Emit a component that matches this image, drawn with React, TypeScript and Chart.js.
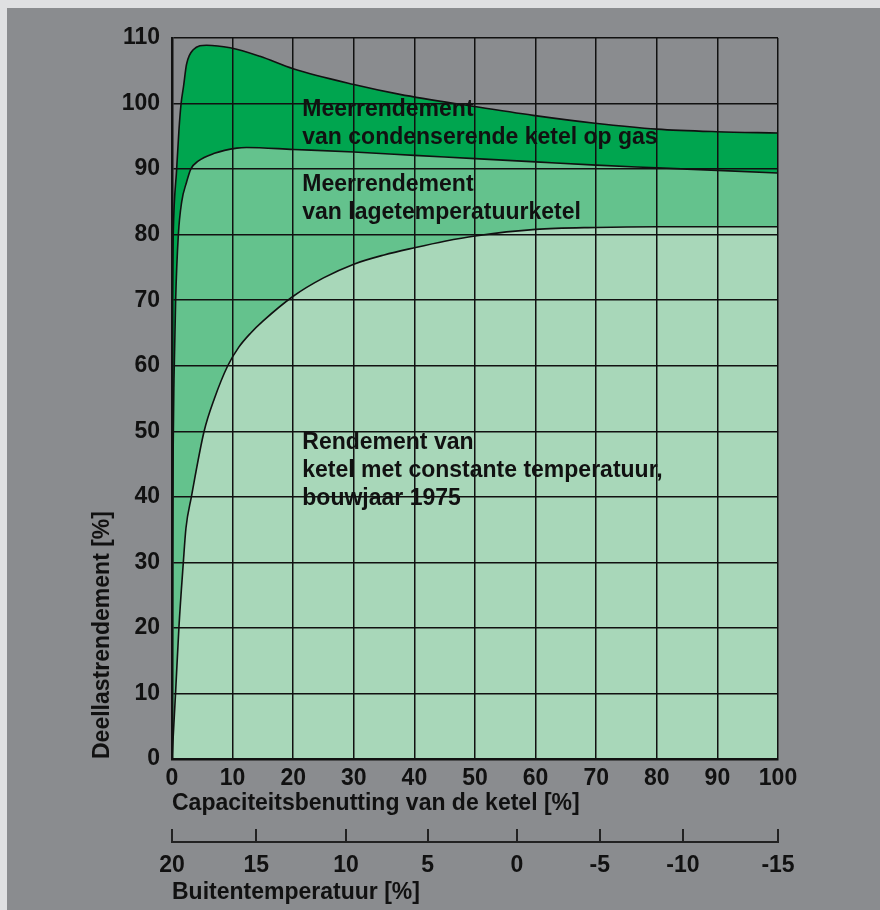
import React, { useEffect, useRef } from "react";
import { Chart, registerables } from "chart.js";

Chart.register(...registerables);

// ---- data ----
const tempLabels = ["20", "15", "10", "5", "0", "-5", "-10", "-15"];
const tempAtCapacity = [0, 13.9, 28.7, 42.2, 56.9, 70.6, 84.3, 100];

// condensing gas boiler (top curve)
const condensingX = [0, 0.2, 0.77, 1.15, 1.5, 1.9, 2.4, 3.5, 5.7, 9.6, 14.5, 20, 30, 37.6, 49.6, 59.6, 69.8, 80, 89.9, 100];
const condensingY = [68, 80, 90, 96, 100, 102.6, 106, 108.2, 108.9, 108.5, 107.2, 105.3, 102.9, 101.4, 99.6, 98.2, 97, 96.1, 95.7, 95.5];

// low temperature boiler (middle curve)
const lowTempX = [0, 0.1, 0.2, 0.33, 0.6, 1.05, 1.6, 2.4, 3.1, 4.3, 7, 10.7, 12.3, 20, 30, 40, 50, 60, 70, 80, 90, 100];
const lowTempY = [0, 30, 48, 58, 70, 80, 85, 88, 90, 91.2, 92.4, 93.2, 93.3, 93.0, 92.6, 92.1, 91.6, 91.1, 90.6, 90.2, 89.8, 89.4];

// constant temperature boiler 1975 (bottom curve)
const constantX = [0, 0.6, 1.15, 1.87, 2.3, 3.2, 5.3, 7, 9.2, 11, 13, 15, 20, 25, 30, 35, 40, 45, 50, 60, 70, 80, 90, 100];
const constantY = [0, 10.3, 20.2, 30, 35.2, 40, 50, 55, 60, 62.8, 65, 66.8, 70.6, 73.4, 75.5, 76.9, 78.0, 79.0, 79.8, 80.8, 81.1, 81.2, 81.2, 81.2];

const annotations = [
  { lines: ["Meerrendement", "van condenserende ketel op gas"], x: 21.5, y: 99 },
  { lines: ["Meerrendement", "van lagetemperatuurketel"], x: 21.5, y: 87.7 },
  { lines: ["Rendement van", "ketel met constante temperatuur,", "bouwjaar 1975"], x: 21.5, y: 48.2 },
];

const FONT = "'Liberation Sans', Arial, sans-serif";
const FS = 23;
const DARK = "#00a54f";
const MID = "#64c28d";
const LIGHT = "#a8d7b9";
const INK = "#111111";

const toPts = (xs: number[], ys: number[]) => xs.map((x, i) => ({ x, y: ys[i] }));

const annotationPlugin = {
  id: "annotationText",
  afterDatasetsDraw(chart: any) {
    const { ctx, scales } = chart;
    ctx.save();
    ctx.fillStyle = INK;
    ctx.font = `bold ${FS}px ${FONT}`;
    ctx.textAlign = "left";
    ctx.textBaseline = "middle";
    for (const a of annotations) {
      const px = scales.x.getPixelForValue(a.x);
      const py = scales.y.getPixelForValue(a.y);
      a.lines.forEach((t, i) => ctx.fillText(t, px, py + i * 28));
    }
    ctx.restore();
  },
};

const tempAxisLinePlugin = {
  id: "tempAxisLine",
  afterDraw(chart: any) {
    const s = chart.scales.x2;
    if (!s) return;
    const { ctx } = chart;
    ctx.save();
    ctx.strokeStyle = "#222";
    ctx.lineWidth = 2;
    const y = s.top + 13;
    ctx.beginPath();
    ctx.moveTo(s.left - 1, y);
    ctx.lineTo(s.right + 1, y);
    ctx.stroke();
    ctx.restore();
  },
};

export default function App() {
  const ref = useRef<HTMLCanvasElement | null>(null);
  useEffect(() => {
    if (!ref.current) return;
    const line = (data: any, fill: string) => ({
      data,
      xAxisID: "x",
      yAxisID: "y",
      borderColor: INK,
      borderWidth: 1.6,
      backgroundColor: fill,
      fill: "origin",
      pointRadius: 0,
      cubicInterpolationMode: "monotone",
    });
    const font = { family: FONT, size: FS, weight: "bold" };
    const chart = new Chart(ref.current, {
      type: "line",
      data: {
        datasets: [
          line(toPts(constantX, constantY), LIGHT),
          line(toPts(lowTempX, lowTempY), MID),
          line(toPts(condensingX, condensingY), DARK),
        ] as any,
      },
      options: {
        animation: false,
        responsive: false,
        events: [],
        layout: { padding: { top: 38, right: 102, bottom: 0, left: 0 } },
        plugins: { legend: { display: false }, tooltip: { enabled: false } },
        scales: {
          x: {
            type: "linear",
            position: "bottom",
            weight: 0,
            min: 0,
            max: 100,
            grid: { color: INK, lineWidth: 1.5, drawTicks: false, z: 1 },
            border: { color: INK, width: 2.5, z: 1 },
            ticks: {
              stepSize: 10,
              autoSkip: false,
              maxRotation: 0,
              padding: 6,
              color: INK,
              font,
            },
            title: {
              display: true,
              text: "Capaciteitsbenutting van de ketel [%]",
              align: "start",
              color: INK,
              padding: { top: 0, bottom: 12 },
              font,
            },
            afterFit: (s: any) => {
              s.height = 70;
            },
          },
          x2: {
            type: "linear",
            position: "bottom",
            weight: 1,
            min: 0,
            max: 100,
            grid: { color: "#222", lineWidth: 2, drawOnChartArea: false, drawTicks: true, tickLength: 13 },
            border: { display: false },
            afterBuildTicks: (s: any) => {
              s.ticks = tempAtCapacity.map((v) => ({ value: v }));
            },
            ticks: {
              autoSkip: false,
              maxRotation: 0,
              padding: 10,
              color: INK,
              font,
              callback: (_v: any, i: number) => tempLabels[i],
            },
            title: {
              display: true,
              text: "Buitentemperatuur [%]",
              align: "start",
              color: INK,
              padding: { top: 0, bottom: 4 },
              font,
            },
            afterFit: (s: any) => {
              s.height = 81;
            },
          },
          y: {
            type: "linear",
            position: "left",
            min: 0,
            max: 110,
            grid: { color: INK, lineWidth: 1.5, drawTicks: false, z: 1 },
            border: { color: INK, width: 2.5, z: 1 },
            ticks: {
              stepSize: 10,
              padding: 12,
              color: INK,
              font,
            },
            title: {
              display: true,
              text: "Deellastrendement [%]",
              align: "start",
              color: INK,
              padding: { top: 89, bottom: 0 },
              font,
            },
            afterFit: (s: any) => {
              s.width = 172;
            },
          },
        },
      } as any,
      plugins: [annotationPlugin, tempAxisLinePlugin],
    });
    return () => chart.destroy();
  }, []);

  return (
    <div style={{ position: "fixed", left: 0, top: 0, width: 880, height: 910, background: "#dfe0e2", overflow: "hidden" }}>
      <div style={{ position: "absolute", left: 7, top: 8, right: 0, bottom: 0, background: "#8a8c8f" }} />
      <canvas ref={ref} width={880} height={910} style={{ position: "absolute", left: 0, top: 0, width: 880, height: 910 }} />
    </div>
  );
}
